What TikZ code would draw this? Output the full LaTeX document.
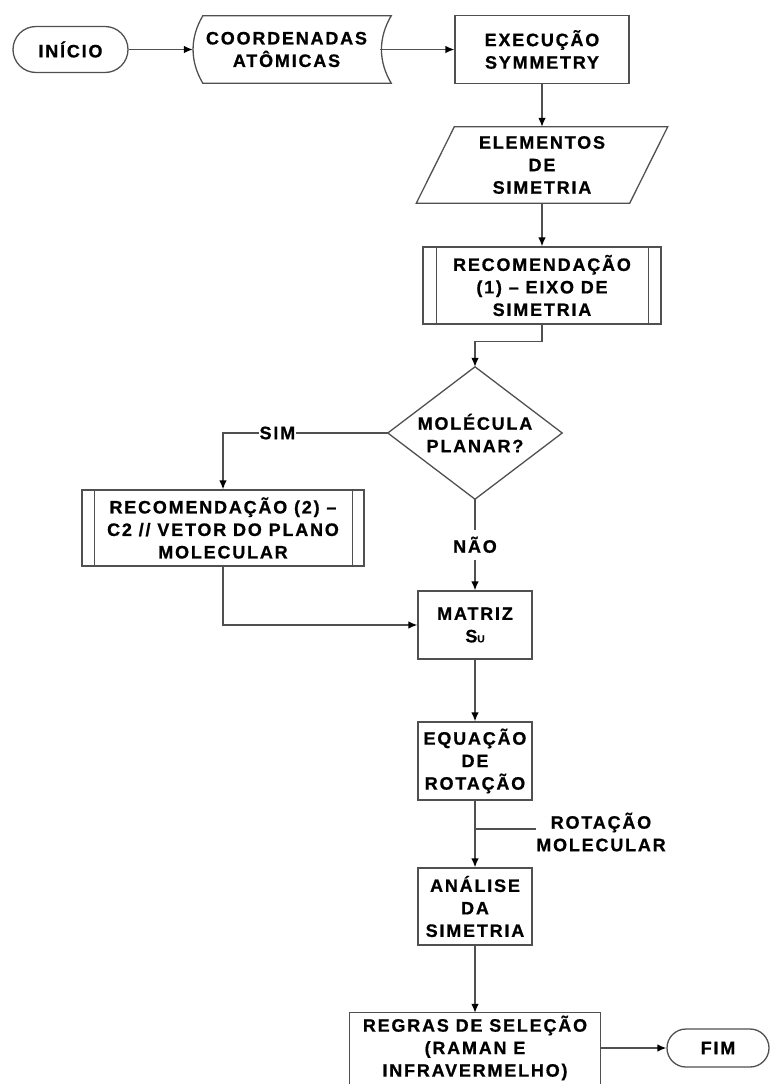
\documentclass[tikz,border=0pt]{standalone}
\usepackage{fontspec}
\setmainfont{Liberation Sans}[LetterSpace=10, BoldFeatures={FakeBold=0.8}]
\usetikzlibrary{arrows.meta,calc}
\definecolor{edge}{HTML}{505050}
\begin{document}
\begin{tikzpicture}[x=1pt,y=1pt,
  every node/.style={font=\bfseries\fontsize{18}{22.5}\selectfont, align=center, inner sep=0pt, text=black},
  outline/.style={draw=edge, line width=1.3pt},
  link/.style={draw=edge, line width=1.3pt},
  flow/.style={link, -{Latex[length=9pt,width=7.5pt,black]}},
  tag/.style={fill=white, inner xsep=2pt, inner ysep=5pt}
]
\useasboundingbox (0,0) rectangle (771,-1084);
\clip (0,0) rectangle (771,-1084);

% start terminal
\node[outline, rounded corners=23pt, minimum width=115, minimum height=46] (start) at (70.5,-49.5) {INÍCIO};

% stored data: atomic coordinates
\node[minimum width=187, minimum height=67] (coord) at (286.5,-49.5) {COORDENADAS\\ATÔMICAS};
\draw[outline] ([xshift=10pt]coord.north west) -- ([xshift=11pt]coord.north east)
  .. controls ([shift={(-2pt,-22pt)}]coord.north east) and ([shift={(-2pt,22pt)}]coord.south east) .. ([xshift=11pt]coord.south east)
  -- ([xshift=10pt]coord.south west)
  .. controls ([shift={(-3pt,22pt)}]coord.south west) and ([shift={(-3pt,-22pt)}]coord.north west) .. ([xshift=10pt]coord.north west) -- cycle;

% process: run SYMMETRY
\node[outline, minimum width=174, minimum height=68] (exec) at (542,-49.5) {EXECUÇÃO\\SYMMETRY};

% data: symmetry elements (parallelogram)
\node[minimum width=213, minimum height=76] (elem) at (542,-165) {ELEMENTOS\\DE\\SIMETRIA};
\draw[outline] ([xshift=19pt]elem.north west) -- ([xshift=19pt]elem.north east)
  -- ([xshift=-19pt]elem.south east) -- ([xshift=-19pt]elem.south west) -- cycle;

% predefined process: recommendation (1)
\node[outline, minimum width=238, minimum height=77] (rec1) at (542,-285.5) {RECOMENDAÇÃO\\(1) – EIXO DE\\SIMETRIA};
\draw[outline] ([xshift=14pt]rec1.north west) -- ([xshift=14pt]rec1.south west)
  ([xshift=-13pt]rec1.north east) -- ([xshift=-13pt]rec1.south east);

% decision
\node[minimum width=174, minimum height=132] (dec) at (475,-433) {MOLÉCULA\\PLANAR?};
\draw[outline] (dec.north) -- (dec.east) -- (dec.south) -- (dec.west) -- cycle;

% predefined process: recommendation (2)
\node[outline, minimum width=282, minimum height=76] (rec2) at (223,-528) {RECOMENDAÇÃO (2) –\\C2 // VETOR DO PLANO\\MOLECULAR};
\draw[outline] ([xshift=13pt]rec2.north west) -- ([xshift=13pt]rec2.south west)
  ([xshift=-12pt]rec2.north east) -- ([xshift=-12pt]rec2.south east);

% processes along the main column
\node[outline, minimum width=114, minimum height=68] (mat) at (475,-625) {MATRIZ\\S{\fontsize{10}{10}\selectfont U}};
\node[outline, minimum width=114, minimum height=78] (eq) at (475,-761) {EQUAÇÃO\\DE\\ROTAÇÃO};
\node[outline, minimum width=114, minimum height=77] (ana) at (475,-906.5) {ANÁLISE\\DA\\SIMETRIA};
\node (rot) at (601,-832) {ROTAÇÃO\\MOLECULAR};

% selection rules (box runs off the lower edge)
\node[minimum width=251, minimum height=70] (reg) at (475,-1048) {REGRAS DE SELEÇÃO\\(RAMAN E\\INFRAVERMELHO)};
\draw[outline] ([yshift=-20pt]reg.south west) -- (reg.north west) -- (reg.north east) -- ([yshift=-20pt]reg.south east);

% end terminal
\node[outline, rounded corners=19pt, minimum width=102, minimum height=38] (fim) at (718,-1048) {FIM};

% connectors
\draw[flow] (start.east) -- (coord.west);
\draw[flow] (coord.east) -- (exec.west);
\draw[flow] (exec.south) -- (elem.north);
\draw[flow] (elem.south) -- (rec1.north);
\draw[flow] (rec1.south) -- ++(0,-17) -| (dec.north);
\draw[flow] (dec.west) -- node[pos=0.67, tag, inner xsep=1pt]{SIM} (dec.west -| rec2.north) -- (rec2.north);
\draw[flow] (dec.south) -- node[tag, inner ysep=7pt]{NÃO} (mat.north);
\draw[flow] (rec2.south) |- (mat.west);
\draw[flow] (mat.south) -- (eq.north);
\draw[flow] (eq.south) -- (ana.north);
\coordinate (br) at ($(eq.south)!0.426!(ana.north)$);
\draw[link] (br) -- (br -| rot.west);
\draw[flow] (ana.south) -- (reg.north);
\draw[flow] (reg.east) -- (fim.west);
\end{tikzpicture}
\end{document}
